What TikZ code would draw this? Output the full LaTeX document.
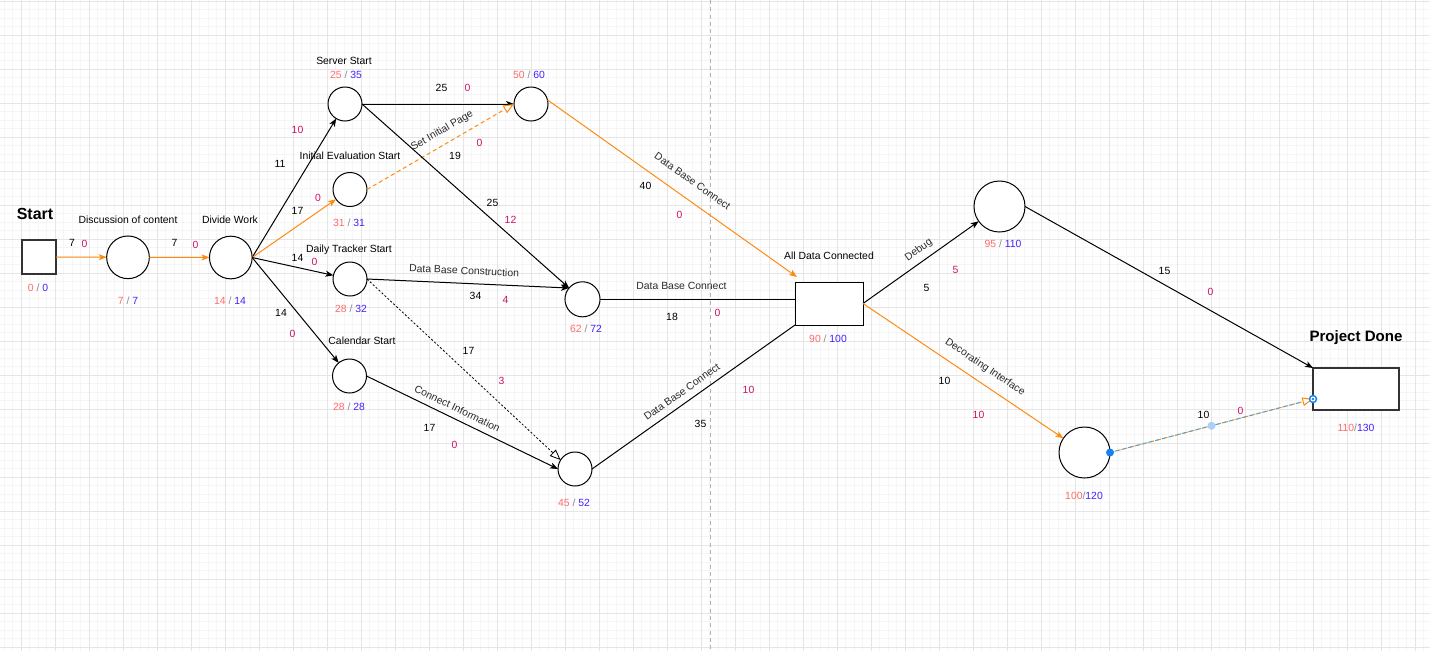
\documentclass[tikz,border=0pt]{standalone}
\usepackage{fontspec}
\setmainfont{Liberation Sans}
\usetikzlibrary{arrows.meta,calc}

\definecolor{gridminor}{HTML}{F5F5F5}
\definecolor{gridmajor}{HTML}{E5E5E5}
\definecolor{guide}{HTML}{B4B4B4}
\definecolor{flow}{HTML}{FF8A10}
\definecolor{slack}{HTML}{CC1166}
\definecolor{early}{HTML}{FF6B6B}
\definecolor{late}{HTML}{4422FF}
\definecolor{sepgray}{HTML}{8A8A8A}
\definecolor{edgetext}{HTML}{2A2A2A}
\definecolor{selblue}{HTML}{1A82F0}
\definecolor{selpale}{HTML}{A9D0F7}
\definecolor{selline}{HTML}{45A8E0}

\newcommand{\lbl}{\fontsize{7.8pt}{9pt}\selectfont}
% early time / late time pair
\newcommand{\eltimes}[2]{\textcolor{early}{#1}~\textcolor{sepgray}{/}~\textcolor{late}{#2}}
\newcommand{\eltight}[2]{\textcolor{early}{#1}\textcolor{sepgray}{/}\textcolor{late}{#2}}

\begin{document}
\begin{tikzpicture}[x=0.75pt,y=-0.75pt,
  txt/.style={font=\lbl, inner sep=0pt, text height=5.6pt, text depth=0pt},
  nk/.style={txt, text=black},
  nm/.style={txt, text=slack},
  vlab/.style={txt},
  title/.style={font=\bfseries\fontsize{12pt}{14pt}\selectfont, inner sep=0pt},
  elabel/.style={txt, text=edgetext, sloped},
  event/.style={circle, draw=black, line width=0.75pt, fill=white, inner sep=0pt, outer sep=0pt},
  small/.style={event, minimum size=25.5pt},
  mid/.style={event, minimum size=32pt},
  big/.style={event, minimum size=38.25pt},
  terminal/.style={rectangle, draw=black!80, line width=0.9pt, fill=white, inner sep=0pt, outer sep=0pt},
  milestone/.style={rectangle, draw=black, line width=0.75pt, fill=white, inner sep=0pt, outer sep=0pt},
  bline/.style={draw=black, line width=0.75pt},
  barrow/.style={bline, -{Stealth[length=6pt,width=4.6pt,inset=1.6pt]}},
  oarrow/.style={draw=flow, line width=0.75pt, -{Stealth[length=6pt,width=4.6pt,inset=1.6pt]}},
  odash/.style={oarrow, dash pattern=on 3pt off 2.2pt, -{Triangle[open,fill=white,length=8pt,width=6.5pt]}},
  dotarrow/.style={draw=black, line width=0.6pt, dash pattern=on 1.6pt off 1.4pt, -{Triangle[open,fill=white,length=8pt,width=6.5pt]}}
]
\useasboundingbox (0,0) rectangle (1430,651);
\fill[white] (0,0) rectangle (1430,651);

% background grid: fine lines every 8.5 px, heavier every 34 px
\foreach \k in {-2,...,165} {
  \draw[gridminor, line width=0.55pt] ({21+8.5*\k},0) -- ({21+8.5*\k},651);
}
\foreach \k in {0,...,76} {
  \draw[gridminor, line width=0.55pt] (0,{1+8.5*\k}) -- (1430,{1+8.5*\k});
}
\foreach \k in {0,...,41} {
  \draw[gridmajor, line width=0.75pt] ({21+34*\k},0) -- ({21+34*\k},651);
}
\foreach \k in {0,...,19} {
  \draw[gridmajor, line width=0.75pt] (0,{1+34*\k}) -- (1430,{1+34*\k});
}
\draw[guide, line width=0.75pt, dash pattern=on 3pt off 2.5pt] (710,0) -- (710,651);

% events
\node[terminal, minimum width=25.5pt, minimum height=25.5pt] (start) at (39,257) {};
\node[mid] (c1) at (128,257.3) {};
\node[mid] (dw) at (230.8,257.5) {};
\node[small] (ss) at (345,104) {};
\node[small] (n5060) at (531,104) {};
\node[small] (ie) at (350,189.5) {};
\node[small] (dt) at (350,279) {};
\node[small] (cs) at (349.5,376) {};
\node[small, minimum size=26.3pt] (n6272) at (582.5,299.3) {};
\node[small] (n4552) at (575,469) {};
\node[milestone, minimum width=51pt, minimum height=32.25pt] (adc) at (829,303.5) {};
\node[big] (n95) at (999.5,206.5) {};
\node[big] (n100) at (1084.5,452.5) {};
\node[terminal, minimum width=64.5pt, minimum height=31.5pt] (pd) at (1356,389) {};

% titles and names
\node[title] (tstart) at (35,214) {Start};
\node[title, font=\bfseries\fontsize{11.3pt}{13pt}\selectfont] (tdone) at (1356,338) {Project Done};
\node[txt] (nm1) at (128,220) {Discussion of content};
\node[txt] (nm2) at (230,220) {Divide Work};
\node[txt] (nm3) at (344,61) {Server Start};
\node[txt] (nm4) at (350,156) {Initial Evaluation Start};
\node[txt] (nm5) at (349,249) {Daily Tracker Start};
\node[txt] (nm6) at (362,341) {Calendar Start};
\node[txt] (nm7) at (829,256) {All Data Connected};

% early / late times
\node[vlab] (v1) at (38,288) {\eltimes{0}{0}};
\node[vlab] (v2) at (128,301) {\eltimes{7}{7}};
\node[vlab] (v3) at (230,301) {\eltimes{14}{14}};
\node[vlab] (v4) at (346,75) {\eltimes{25}{35}};
\node[vlab] (v5) at (529,75) {\eltimes{50}{60}};
\node[vlab] (v6) at (349,223) {\eltimes{31}{31}};
\node[vlab] (v7) at (351,309) {\eltimes{28}{32}};
\node[vlab] (v8) at (586,329) {\eltimes{62}{72}};
\node[vlab] (v9) at (349,407) {\eltimes{28}{28}};
\node[vlab] (v10) at (574,503) {\eltimes{45}{52}};
\node[vlab] (v11) at (828,339) {\eltimes{90}{100}};
\node[vlab] (v12) at (1003,244) {\eltimes{95}{110}};
\node[vlab] (v13) at (1084,495.5) {\eltight{100}{120}};
\node[vlab] (v14) at (1356,427.5) {\eltight{110}{130}};

% activities
\draw[oarrow] (start.east) -- (c1);
\draw[oarrow] (c1) -- (dw);
\draw[barrow] (dw.east) -- (ss);
\draw[oarrow] (dw.east) -- (ie);
\draw[barrow] (dw.east) -- (dt);
\draw[barrow] (dw.east) -- (cs);
\draw[barrow] (ss) -- (n5060);
\draw[odash] (ie.east) -- node[elabel, pos=0.556, above=7.4pt] (e1) {Set Initial Page} (n5060.west);
\draw[barrow] (ss.east) -- (n6272.140);
\draw[barrow] (dt.east) -- node[elabel, pos=0.478, above=6.4pt] (e2) {Data Base Construction} (n6272.140);
\draw[dotarrow] (dt.east) -- (n4552.148);
\draw[barrow] (cs.east) -- node[elabel, pos=0.45, above=4.7pt] (e3) {Connect Information} (n4552.west);
\draw[bline] (n6272.east) -- node[elabel, pos=0.418, above=7.1pt] (e4) {Data Base Connect} (n6272.east -| adc.west);
\draw[bline] (n4552.east) -- node[elabel, pos=0.474, above=5.2pt] (e5) {Data Base Connect} (adc.south west);
\draw[oarrow] (n5060.14) -- node[elabel, pos=0.54, above=10.2pt] (e6) {Data Base Connect} ($(adc.north west)+(2,-5)$);
\draw[barrow] (adc.east) -- node[elabel, pos=0.538, above=6.1pt] (e7) {Debug} (n95);
\draw[barrow] (n95.east) -- (pd.north west);
\draw[oarrow] (adc.east) -- node[elabel, pos=0.567, above=8.9pt] (e8) {Decorating Interface} (n100);

% selected connector into the finish
\coordinate (pdin) at ($(pd.west)+(0,10)$);
\draw[draw=flow, line width=0.75pt, dash pattern=on 3pt off 2.2pt, -{Triangle[open,fill=white,length=8pt,width=6.5pt]}] (n100.east) -- (pdin);
\draw[draw=selline, line width=0.75pt, dash pattern=on 3pt off 2.2pt, dash phase=1.5pt, shorten >=9pt] (n100.east) -- node[pos=0.5, circle, fill=selpale, inner sep=0pt, minimum size=6pt] (selmid) {} (pdin);
\fill[selblue] (n100.east) circle (3pt);
\fill[selblue] (pdin) circle (3.2pt);
\fill[white] (pdin) circle (1.9pt);
\fill[selblue] (pdin) circle (1pt);

% durations (black) and slack (magenta)
\node[nk] (k1) at (72,243) {7};
\node[nm] (m1) at (84.5,244) {0};
\node[nk] (k2) at (174.5,242.5) {7};
\node[nm] (m2) at (195.5,244.5) {0};
\node[nm] (m3) at (297.5,130) {10};
\node[nk] (k3) at (280,164) {11};
\node[nm] (m4) at (318,198) {0};
\node[nk] (k4) at (297.5,210.5) {17};
\node[nk] (k5) at (441.5,87.5) {25};
\node[nm] (m5) at (467.5,87.5) {0};
\node[nm] (m6) at (479.5,142.5) {0};
\node[nk] (k6) at (455,156) {19};
\node[nk] (k7) at (492.5,203) {25};
\node[nm] (m7) at (510.5,219.5) {12};
\node[nk] (k8) at (297.5,257.5) {14};
\node[nm] (m8) at (314.5,262) {0};
\node[nk] (k9) at (281,312.5) {14};
\node[nm] (m9) at (292.5,333.5) {0};
\node[nk] (k10) at (475.5,295.5) {34};
\node[nm] (m10) at (505.5,299.5) {4};
\node[nk] (k11) at (468.5,350.5) {17};
\node[nm] (m11) at (501.5,380.5) {3};
\node[nk] (k12) at (429.5,427.5) {17};
\node[nm] (m12) at (454.5,445) {0};
\node[nk] (k13) at (645.5,186) {40};
\node[nm] (m13) at (679.5,214.5) {0};
\node[nk] (k14) at (672,316.5) {18};
\node[nm] (m14) at (717.5,312.5) {0};
\node[nm] (m15) at (748.5,390) {10};
\node[nk] (k15) at (700.5,423.5) {35};
\node[nm] (m16) at (955.5,270) {5};
\node[nk] (k16) at (926.5,287.5) {5};
\node[nk] (k17) at (1164.5,270.5) {15};
\node[nm] (m17) at (1210.5,292) {0};
\node[nk] (k18) at (944.5,381) {10};
\node[nm] (m18) at (978.5,414.5) {10};
\node[nk] (k19) at (1203.5,415) {10};
\node[nm] (m19) at (1240.5,411) {0};
\end{tikzpicture}
\end{document}
